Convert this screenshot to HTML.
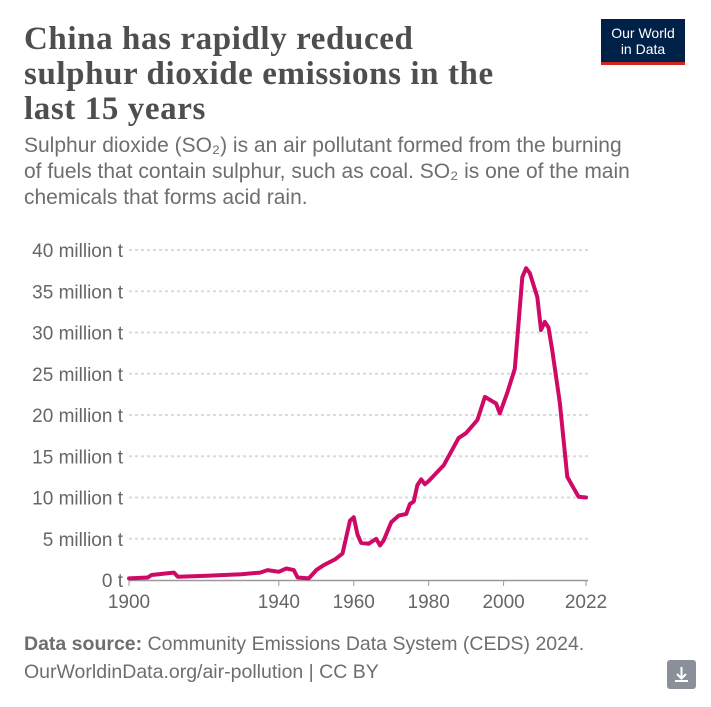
<!DOCTYPE html>
<html><head><meta charset="utf-8"><style>
body{margin:0;width:711px;height:707px;background:#fff;font-family:"Liberation Sans",sans-serif;position:relative;overflow:hidden}
.t{position:absolute;left:24px;top:22px;font-family:"Liberation Serif",serif;font-weight:bold;font-size:33px;line-height:35px;color:#4e4e4e;letter-spacing:0.6px}
.s{position:absolute;left:24px;top:133px;font-size:21px;line-height:26px;color:#6e6e6e;width:612px}
.logo{position:absolute;left:601px;top:19px;width:84px;height:46px;background:#002147;border-bottom:3px solid #ce261e;color:#fff;font-size:14px;line-height:16px;text-align:center;padding-top:6px;box-sizing:border-box}
.f{position:absolute;left:24px;top:630px;font-size:19.5px;line-height:28px;color:#6e6e6e}
.dl{position:absolute;left:667px;top:660px;width:29px;height:29px;background:#8a8f99;border-radius:3px}
</style></head><body>
<div class="t">China has rapidly reduced<br>sulphur dioxide emissions in the<br>last 15 years</div>
<div class="s">Sulphur dioxide (SO₂) is an air pollutant formed from the burning of fuels that contain sulphur, such as coal. SO₂ is one of the main chemicals that forms acid rain.</div>
<div class="logo">Our World<br>in Data</div>
<svg id="c" width="711" height="707" style="position:absolute;left:0;top:0"></svg>
<div class="f"><b>Data source:</b> Community Emissions Data System (CEDS) 2024.<br>OurWorldinData.org/air-pollution | CC BY</div>
<div class="dl"><svg width="29" height="29"><path d="M14.5 7v11M10 14l4.5 4.5L19 14M8 21h13" stroke="#fff" stroke-width="2" fill="none"/></svg></div>
<script>
const years=[1900,1905,1906,1910,1912,1913,1920,1930,1935,1937,1940,1942,1944,1945,1948,1950,1952,1955,1957,1959,1960,1961,1962,1964,1966,1967,1968,1970,1972,1974,1975,1976,1977,1978,1979,1980,1984,1988,1990,1993,1995,1998,1999,2001,2003,2005,2006,2007,2009,2010,2011,2012,2013,2015,2017,2020,2022];
const values=[0.2,0.3,0.6,0.8,0.9,0.4,0.5,0.7,0.9,1.2,1.0,1.4,1.2,0.3,0.2,1.2,1.8,2.5,3.2,7.2,7.6,5.5,4.5,4.4,5.0,4.2,4.8,7.0,7.8,8.0,9.2,9.5,11.5,12.2,11.6,12.0,13.9,17.2,17.8,19.4,22.2,21.4,20.2,22.7,25.6,36.7,37.8,37.2,34.3,30.3,31.3,30.6,27.8,21.5,12.5,10.1,10.0];
const yTicks=[0,5,10,15,20,25,30,35,40];
const yLabels=["0 t","5 million t","10 million t","15 million t","20 million t","25 million t","30 million t","35 million t","40 million t"];
const xTicks=[1900,1940,1960,1980,2000,2022];
const svg=document.getElementById('c'),NS='http://www.w3.org/2000/svg';
const X=y=>129+(y-1900)*(586-129)/122, Y=v=>580-v*8.25;
function mk(t,a){const e=document.createElementNS(NS,t);for(const k in a)e.setAttribute(k,a[k]);svg.appendChild(e);return e;}
yTicks.forEach((v,i)=>{
 if(v>0){const l=mk('line',{x1:129,x2:588,y1:Y(v),y2:Y(v),stroke:'#dadada','stroke-dasharray':'3,3','stroke-width':2});
 
 }
 const t=mk('text',{x:123,y:Y(v)+7,'text-anchor':'end','font-size':19,fill:'#666'});t.textContent=yLabels[i];
 
 
});
const ax=mk('line',{x1:129,x2:588,y1:580.5,y2:580.5,stroke:'#999','stroke-width':1.5});


xTicks.forEach(v=>{
 mk('line',{x1:X(v),x2:X(v),y1:580,y2:586,stroke:'#999'});
 const t=mk('text',{x:X(v),y:608,'text-anchor':'middle','font-size':19,fill:'#666'});t.textContent=v;
 
 
});
const p=mk('path',{d:years.map((y,i)=>(i?'L':'M')+X(y).toFixed(1)+','+Y(values[i]).toFixed(1)).join(''),fill:'none',stroke:'#cf0a66','stroke-width':4,'stroke-linejoin':'round','stroke-linecap':'round'});


</script>
</body></html>
